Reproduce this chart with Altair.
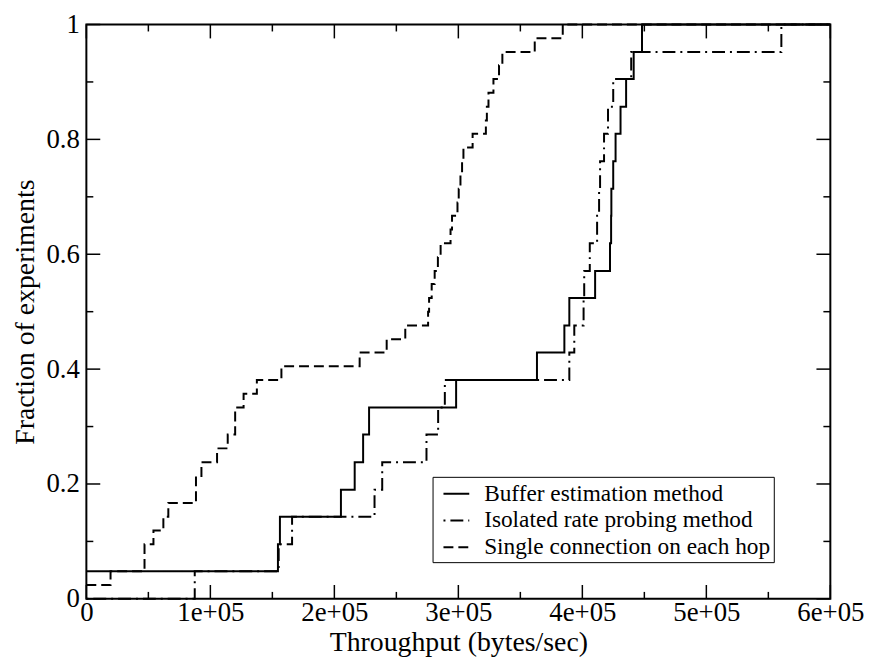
import altair as alt
import pandas as pd

series_names = ["Buffer estimation method",
                "Isolated rate probing method",
                "Single connection on each hop"]

# Buffer estimation method (solid) : step points (x = throughput, y = fraction)
buffer_x = [0, 154500, 156100, 205300, 216400, 223200, 228000, 298200, 363400,
            385500, 389500, 410300, 422300, 423200, 423400, 424900, 426800,
            430800, 435300, 441400, 448100, 600000]
buffer_y = [0.048, 0.095, 0.143, 0.190, 0.238, 0.286, 0.333, 0.381, 0.429,
            0.476, 0.524, 0.571, 0.619, 0.667, 0.714, 0.762, 0.810,
            0.857, 0.905, 0.952, 1.0, 1.0]

# Isolated rate probing method (dash-dot)
isolated_x = [0, 87400, 155100, 165900, 232400, 238600, 274300, 283700, 289100,
              389500, 393500, 401000, 401500, 406000, 411900, 413500, 414300,
              417500, 420700, 424900, 439400, 560500, 600000]
isolated_y = [0.0, 0.048, 0.095, 0.143, 0.190, 0.238, 0.286, 0.333, 0.381,
              0.429, 0.476, 0.524, 0.571, 0.619, 0.667, 0.714, 0.762,
              0.810, 0.857, 0.905, 0.952, 1.0, 1.0]

# Single connection on each hop (dashed)
single_x = [0, 19500, 46900, 54100, 62100, 66100, 88400, 92800, 105400, 114000,
            120000, 126800, 137500, 157300, 220400, 242200, 257200, 275600,
            276400, 278500, 280900, 283500, 285700, 293700, 294900, 299300,
            300300, 301700, 303000, 304100, 311500, 322200, 323000, 324300,
            328300, 332800, 335500, 361600, 384200, 600000]
single_y = [0.024, 0.048, 0.095, 0.119, 0.143, 0.167, 0.214, 0.238, 0.262, 0.286,
            0.333, 0.357, 0.381, 0.405, 0.429, 0.452, 0.476, 0.5,
            0.524, 0.548, 0.571, 0.595, 0.619, 0.643, 0.667, 0.690,
            0.714, 0.738, 0.762, 0.786, 0.810, 0.833, 0.857, 0.881,
            0.905, 0.929, 0.952, 0.976, 1.0, 1.0]

x_major_ticks = [0, 100000, 200000, 300000, 400000, 500000, 600000]
x_minor_ticks = [50000, 150000, 250000, 350000, 450000, 550000]
y_major_ticks = [0, 0.2, 0.4, 0.6, 0.8, 1]
y_minor_ticks = [0.1, 0.3, 0.5, 0.7, 0.9]

rows = []
for name, xs, ys in zip(series_names, [buffer_x, isolated_x, single_x],
                        [buffer_y, isolated_y, single_y]):
    for i, (xv, yv) in enumerate(zip(xs, ys)):
        rows.append({"series": name, "x": xv, "y": yv, "order": i})
df = pd.DataFrame(rows)

W, H = 750, 579
FONT = "Liberation Serif"

xscale = alt.Scale(domain=[0, 600000], nice=False, zero=False)
yscale = alt.Scale(domain=[0, 1], nice=False)

xaxis = alt.Axis(title="Throughput (bytes/sec)", values=x_major_ticks,
                 labelExpr="datum.value == 0 ? '0' : format(datum.value/100000, 'd') + 'e+05'",
                 ticks=False, domain=False, grid=False,
                 labelFont=FONT, labelFontSize=27, labelColor="black", labelPadding=1,
                 labelFlush=False, labelOverlap=False,
                 titleFont=FONT, titleFontSize=28, titleFontWeight="normal",
                 titleColor="black", titlePadding=3)
yaxis = alt.Axis(title="Fraction of experiments", values=y_major_ticks, format="~g",
                 ticks=False, domain=False, grid=False,
                 labelFont=FONT, labelFontSize=27, labelColor="black", labelPadding=7,
                 labelFlush=False, labelOverlap=False,
                 titleFont=FONT, titleFontSize=28, titleFontWeight="normal",
                 titleColor="black", titlePadding=7)

lines = alt.Chart(df).mark_line(interpolate="step-after", color="black",
                                strokeWidth=2).encode(
    x=alt.X("x:Q", scale=xscale, axis=xaxis),
    y=alt.Y("y:Q", scale=yscale, axis=yaxis),
    strokeDash=alt.StrokeDash(
        "series:N",
        scale=alt.Scale(domain=series_names, range=[[1, 0], [2, 5, 13, 5], [10, 5]]),
        legend=alt.Legend(title=None, orient="none", legendX=349, legendY=456,
                          strokeColor="black", fillColor="white", padding=3,
                          symbolOffset=7, symbolType="stroke", symbolSize=676,
                          symbolStrokeWidth=2, symbolStrokeColor="black",
                          labelFont=FONT, labelFontSize=23.5, labelColor="black",
                          labelOffset=14, rowPadding=1, labelLimit=0)),
    order="order:Q",
)

def xticks(vals, y0, y1):
    return alt.Chart(pd.DataFrame({"x": vals})).mark_rule(color="black", strokeWidth=1.5).encode(
        x=alt.X("x:Q", scale=xscale, axis=xaxis), y=alt.value(y0), y2=alt.value(y1))

def yticks(vals, x0, x1):
    return alt.Chart(pd.DataFrame({"y": vals})).mark_rule(color="black", strokeWidth=1.5).encode(
        y=alt.Y("y:Q", scale=yscale, axis=yaxis), x=alt.value(x0), x2=alt.value(x1))

MAJ, MIN = 14, 7
layers = [
    xticks(x_major_ticks, H, H - MAJ), xticks(x_minor_ticks, H, H - MIN),
    xticks(x_major_ticks, 0, MAJ), xticks(x_minor_ticks, 0, MIN),
    yticks(y_major_ticks, 0, MAJ), yticks(y_minor_ticks, 0, MIN),
    yticks(y_major_ticks, W, W - MAJ), yticks(y_minor_ticks, W, W - MIN),
    lines,
]

chart = alt.layer(*layers).properties(
    width=W, height=H,
    padding={"left": 79, "top": 14, "right": 42, "bottom": 60},
    autosize=alt.AutoSizeParams(type="none"),
).configure_view(stroke="black", strokeWidth=2)

chart.save("out.html", embed_options={"renderer": "svg", "actions": False})
